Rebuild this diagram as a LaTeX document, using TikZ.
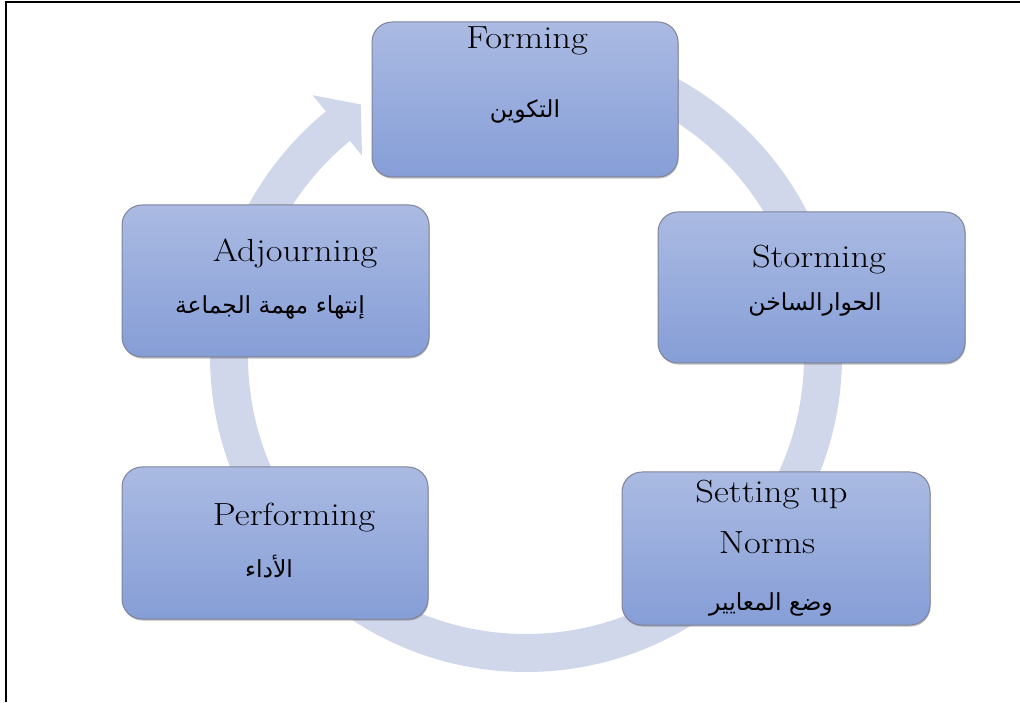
\documentclass[tikz,border=0pt]{standalone}
\usepackage{fontspec}
\newfontfamily\arabicfont[Script=Arabic]{DejaVu Sans}
\newfontfamily\enfont{Latin Modern Roman}[FakeStretch=1.14]
\TeXXeTstate=1
\usetikzlibrary{shadows,calc}
\definecolor{ringcol}{HTML}{D0D7EB}
\definecolor{boxtop}{HTML}{AABAE2}
\definecolor{boxbot}{HTML}{869ED7}
\definecolor{boxedge}{HTML}{80839A}
\begin{document}
\begin{tikzpicture}[x=1pt,y=1pt,
  stagebox/.style={draw=boxedge, line width=1pt, rounded corners=20pt,
    top color=boxtop, bottom color=boxbot, minimum width=306pt, minimum height=152pt,
    inner sep=0pt,
    drop shadow={shadow xshift=0.6pt, shadow yshift=-1.6pt, opacity=0.35, fill=black!70}},
  entext/.style={font=\enfont\fontsize{32}{36}\selectfont, anchor=base, inner sep=0pt},
  artext/.style={font=\arabicfont\fontsize{23.5}{28}\selectfont, inner sep=0pt}]
\useasboundingbox (0,0) rectangle (1020,702);
% frame
\draw[line width=2pt] (5.5,0) -- (5.5,700) -- (1020,700);
% circular arrow
\coordinate (c) at (526,346);
\draw[ringcol, line width=38pt] ($(c)+(90:297)$) arc[start angle=90, end angle=-231, radius=297];
\fill[ringcol] ($(c)+(129.3:337)$) -- ($(c)+(123.3:301)$) -- ($(c)+(129.3:259)$) -- cycle;
% boxes
\node[stagebox, minimum height=155pt] (forming) at (525,602.5) {};
\node[stagebox, minimum width=307pt, minimum height=151pt] (storming) at (811.5,414.5) {};
\node[stagebox, minimum width=307pt] (adjourning) at (275.5,421) {};
\node[stagebox] (performing) at (275,159) {};
\node[stagebox, minimum width=308pt, minimum height=153pt] (norming) at (776,153.5) {};
% texts
\node[entext] (t1) at (527,653) {Forming};
\node[artext] (a1) at (525,591) {\beginR التكوين\endR};
\node[entext] (t2) at (819,434) {Storming};
\node[artext] (a2) at (815,398) {\beginR الحوارالساخن\endR};
\node[entext] (t3) at (295,440) {Adjourning};
\node[artext] (a3) at (270,395) {\beginR إنتهاء مهمة الجماعة\endR};
\node[entext] (t4) at (294,177) {Performing};
\node[artext] (a4) at (269,135) {\beginR الأداء\endR};
\node[entext] (t5) at (771.5,199) {Setting up};
\node[entext] (t6) at (767,149) {Norms};
\node[artext] (a5) at (771,98) {\beginR وضع المعايير\endR};
\end{tikzpicture}
\end{document}
